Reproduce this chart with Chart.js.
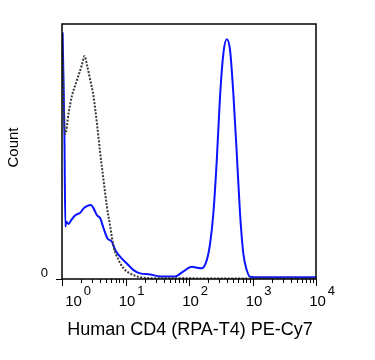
<!DOCTYPE html>
<html>
<head>
<meta charset="utf-8">
<script src="https://cdn.jsdelivr.net/npm/chart.js@4.4.0/dist/chart.umd.min.js"></script>
<style>
  body { margin: 0; background: #fff; }
  #wrap { width: 375px; height: 360px; }
</style>
</head>
<body>
<div id="wrap"><canvas id="histo" width="375" height="360"></canvas></div>
<script>
// PE-Cy7 intensity (x) and event count (% of max)
const stainedX = [1.02, 1.09, 1.13, 1.17, 1.27, 1.39, 1.62, 1.94, 2.19, 2.47, 2.86, 3.14, 3.55, 4.0, 4.51, 5.21, 6.11, 6.89, 8.26, 10.5, 13.4, 17.0, 24.4, 35.1, 60.4, 80.7, 111, 133, 159, 191, 215, 242, 274, 308, 348, 393, 443, 499, 565, 636, 717, 811, 914, 1312, 10000];
const stainedY = [96.8, 58, 20.5, 22.5, 21.6, 23, 25, 26, 27.7, 28.6, 29, 27.7, 25, 23.8, 19.9, 15.9, 14.6, 11.4, 8.7, 6.1, 3.5, 2.2, 1.8, 1.0, 1.0, 2.9, 4.8, 4.4, 4.2, 7.5, 14, 25.8, 46.7, 71.5, 88.5, 94, 89.8, 72.8, 49.3, 25.8, 10, 3.5, 0.9, 0.7, 0.7];

const isotypeX = [1.01, 1.09, 1.13, 1.27, 1.44, 1.72, 2.06, 2.27, 2.47, 2.79, 3.14, 3.55, 4.0, 4.51, 5.10, 5.75, 6.49, 7.77, 9.31, 11.8, 17.0, 29.4, 10000];
const isotypeY = [96, 60, 57, 65, 72, 78, 84, 87.5, 84, 78, 71.5, 61, 49.3, 38.8, 28.4, 20.5, 12.7, 7.5, 4.2, 2.2, 0.7, 0.3, 0.2];

const decadeTicks = [1, 10, 100, 1000, 10000];
const decadeExp = ["0", "1", "2", "3", "4"];
const xTitle = "Human CD4 (RPA-T4) PE-Cy7";
const yTitle = "Count";

const toPoints = (xs, ys) => xs.map((x, i) => ({ x: x, y: ys[i] }));

const facsAxes = {
  id: "facsAxes",
  afterDraw(chart) {
    const ctx = chart.ctx;
    const area = chart.chartArea;
    const xs = chart.scales.x;
    const ys = chart.scales.y;
    ctx.save();

    // frame
    ctx.strokeStyle = "#000";
    ctx.lineWidth = 1.5;
    ctx.strokeRect(area.left, area.top, area.right - area.left, area.bottom - area.top);

    // log ticks
    ctx.lineWidth = 1;
    ctx.beginPath();
    for (let d = 0; d < decadeTicks.length; d++) {
      const base = decadeTicks[d];
      const px = Math.round(xs.getPixelForValue(base)) + 0.5;
      ctx.moveTo(px, area.bottom);
      ctx.lineTo(px, area.bottom + 7);
      if (d < decadeTicks.length - 1) {
        for (let m = 2; m < 10; m++) {
          const mx = Math.round(xs.getPixelForValue(base * m)) + 0.5;
          ctx.moveTo(mx, area.bottom);
          ctx.lineTo(mx, area.bottom + 4);
        }
      }
    }
    // y zero tick
    const y0 = ys.getPixelForValue(0);
    ctx.moveTo(area.left - 6, y0 + 0.5);
    ctx.lineTo(area.left, y0 + 0.5);
    ctx.stroke();

    // decade labels 10^n
    ctx.fillStyle = "#000";
    ctx.textBaseline = "alphabetic";
    decadeTicks.forEach((v, i) => {
      let cx = xs.getPixelForValue(v) + 1.5;
      if (i === 0) cx += 10;
      ctx.font = "15px 'Liberation Sans Narrow', 'Liberation Sans', Arial, sans-serif";
      ctx.textAlign = "center";
      const w = ctx.measureText("10").width;
      ctx.fillText("10", cx, 306);
      ctx.font = "13px 'Liberation Sans', Arial, sans-serif";
      ctx.textAlign = "left";
      ctx.fillText(decadeExp[i], cx + w / 2 + 2, 295);
    });

    // y label "0"
    ctx.font = "13px 'Liberation Sans', Arial, sans-serif";
    ctx.textAlign = "right";
    ctx.fillText("0", 48, 277);

    // axis titles
    ctx.font = "18px 'Liberation Sans', Arial, sans-serif";
    ctx.textAlign = "center";
    ctx.fillText(xTitle, 190, 335);

    ctx.translate(18, 147.5);
    ctx.rotate(-Math.PI / 2);
    ctx.font = "15px 'Liberation Sans', Arial, sans-serif";
    ctx.fillText(yTitle, 0, 0);
    ctx.restore();
  }
};

new Chart(document.getElementById("histo"), {
  type: "line",
  plugins: [facsAxes],
  data: {
    datasets: [
      {
        label: "Isotype",
        data: toPoints(isotypeX, isotypeY),
        borderColor: "#3a3a3a",
        borderWidth: 2,
        borderDash: [2, 1.5],
        pointRadius: 0,
        fill: false,
        cubicInterpolationMode: "monotone"
      },
      {
        label: "CD4",
        data: toPoints(stainedX, stainedY),
        borderColor: "#0a14ff",
        borderWidth: 2,
        pointRadius: 0,
        fill: false,
        cubicInterpolationMode: "monotone"
      }
    ]
  },
  options: {
    responsive: false,
    animation: false,
    layout: { padding: { left: 62, right: 59, top: 24, bottom: 81 } },
    plugins: { legend: { display: false }, tooltip: { enabled: false } },
    scales: {
      x: { type: "logarithmic", min: 1, max: 10000, display: false },
      y: { type: "linear", min: 0, max: 100, display: false }
    }
  }
});
</script>
</body>
</html>
